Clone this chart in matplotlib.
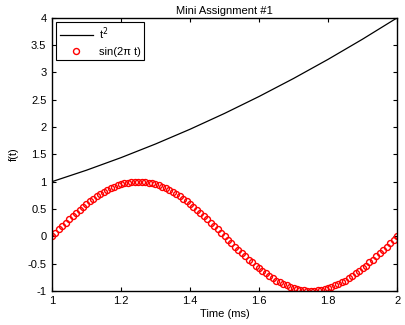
import matplotlib.pyplot as plt
import numpy as np

plt.rcParams['font.family'] = ['Liberation Sans', 'DejaVu Sans']
plt.rcParams['font.size'] = 8

# t^2 curve, sampled every 0.1 ms
t_line = [1.0, 1.1, 1.2, 1.3, 1.4, 1.5, 1.6, 1.7, 1.8, 1.9, 2.0]
sq_vals = [1.0, 1.21, 1.44, 1.69, 1.96, 2.25, 2.56, 2.89, 3.24, 3.61, 4.0]

# circle markers, every 0.01 ms
t_pts = [1.00, 1.01, 1.02, 1.03, 1.04, 1.05, 1.06, 1.07, 1.08, 1.09,
         1.10, 1.11, 1.12, 1.13, 1.14, 1.15, 1.16, 1.17, 1.18, 1.19,
         1.20, 1.21, 1.22, 1.23, 1.24, 1.25, 1.26, 1.27, 1.28, 1.29,
         1.30, 1.31, 1.32, 1.33, 1.34, 1.35, 1.36, 1.37, 1.38, 1.39,
         1.40, 1.41, 1.42, 1.43, 1.44, 1.45, 1.46, 1.47, 1.48, 1.49,
         1.50, 1.51, 1.52, 1.53, 1.54, 1.55, 1.56, 1.57, 1.58, 1.59,
         1.60, 1.61, 1.62, 1.63, 1.64, 1.65, 1.66, 1.67, 1.68, 1.69,
         1.70, 1.71, 1.72, 1.73, 1.74, 1.75, 1.76, 1.77, 1.78, 1.79,
         1.80, 1.81, 1.82, 1.83, 1.84, 1.85, 1.86, 1.87, 1.88, 1.89,
         1.90, 1.91, 1.92, 1.93, 1.94, 1.95, 1.96, 1.97, 1.98, 1.99,
         2.00]
sin_vals = [0.00, 0.06, 0.13, 0.19, 0.25, 0.31, 0.37, 0.43, 0.48, 0.54,
            0.59, 0.64, 0.68, 0.73, 0.77, 0.81, 0.84, 0.88, 0.90, 0.93,
            0.95, 0.97, 0.98, 0.99, 1.00, 1.00, 1.00, 0.99, 0.98, 0.97,
            0.95, 0.93, 0.90, 0.88, 0.84, 0.81, 0.77, 0.73, 0.68, 0.64,
            0.59, 0.54, 0.48, 0.43, 0.37, 0.31, 0.25, 0.19, 0.13, 0.06,
            0.00, -0.06, -0.13, -0.19, -0.25, -0.31, -0.37, -0.43, -0.48, -0.54,
            -0.59, -0.64, -0.68, -0.73, -0.77, -0.81, -0.84, -0.88, -0.90, -0.93,
            -0.95, -0.97, -0.98, -0.99, -1.00, -1.00, -1.00, -0.99, -0.98, -0.97,
            -0.95, -0.93, -0.90, -0.88, -0.84, -0.81, -0.77, -0.73, -0.68, -0.64,
            -0.59, -0.54, -0.48, -0.43, -0.37, -0.31, -0.25, -0.19, -0.13, -0.06,
            0.00]

xticks = [1, 1.2, 1.4, 1.6, 1.8, 2]
xticklabels = ['1', '1.2', '1.4', '1.6', '1.8', '2']
yticks = [-1, -0.5, 0, 0.5, 1, 1.5, 2, 2.5, 3, 3.5, 4]
yticklabels = ['-1', '-0.5', '0', '0.5', '1', '1.5', '2', '2.5', '3', '3.5', '4']

fig = plt.figure(figsize=(4.06, 3.25), dpi=100)
ax = fig.add_axes([0.128, 0.105, 0.85, 0.84])

ax.plot(t_line, sq_vals, color='black', lw=0.9, label='t$^2$')
ax.plot(t_pts, sin_vals, 'o', mfc='none', mec='red', ms=4.3, mew=1.0,
        linestyle='none', label='sin(2\u03c0 t)')

ax.set_xlim(1, 2)
ax.set_ylim(-1, 4)
ax.set_xticks(xticks)
ax.set_xticklabels(xticklabels)
ax.set_yticks(yticks)
ax.set_yticklabels(yticklabels)
ax.tick_params(direction='in', top=True, right=True, length=3, width=0.8, pad=4)
for s in ax.spines.values():
    s.set_linewidth(1.0)

ax.set_title('Mini Assignment #1', fontsize=8, pad=3)
ax.set_xlabel('Time (ms)', labelpad=2)
ax.set_ylabel('f(t)', labelpad=6)

leg = ax.legend(loc='upper left', fancybox=False, edgecolor='black',
                framealpha=1, borderaxespad=0.4, handlelength=3.0,
                handletextpad=0.5, fontsize=8, borderpad=0.3, labelspacing=0.4)
leg.get_frame().set_linewidth(0.8)

fig.savefig('out.png', dpi=100)
